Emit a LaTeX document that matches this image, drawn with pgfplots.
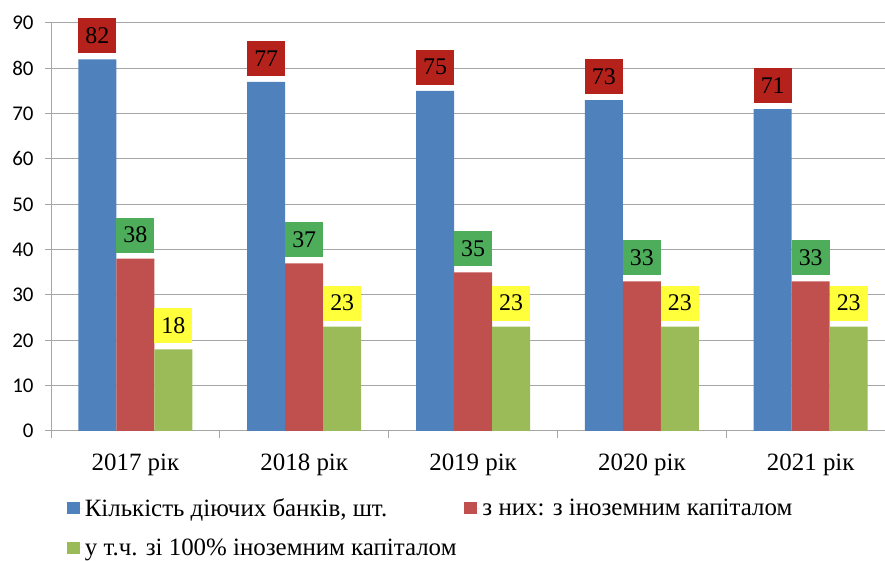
\documentclass[border=0pt]{standalone}
\usepackage{fontspec}
\setmainfont{Liberation Serif}
\newfontfamily\tnr{Liberation Serif}
\newfontfamily\calibri{Carlito}
\usepackage{pgfplots}
\pgfplotsset{compat=1.18}
\definecolor{cblue}{HTML}{4F81BD}
\definecolor{cred}{HTML}{C0504D}
\definecolor{cgreen}{HTML}{9BBB59}
\definecolor{lred}{HTML}{B5221C}
\definecolor{lgreen}{HTML}{4EAD5B}
\definecolor{lyellow}{HTML}{FFFF3C}
\definecolor{gridgray}{HTML}{A6A6A6}
\begin{document}
\begin{tikzpicture}[x=1bp,y=1bp]
\begin{axis}[
  at={(51bp,130bp)}, anchor=south west,
  scale only axis, width=834bp, height=408bp,
  ybar=0pt, bar width=38bp,
  xmin=-0.5, xmax=4.44, ymin=0, ymax=90,
  xtick={0,1,2,3,4},
  xticklabels={2017 рік,2018 рік,2019 рік,2020 рік,2021 рік},
  minor xtick={-0.5,0.5,1.5,2.5,3.5},
  ytick={0,10,...,90},
  axis x line*=bottom, axis y line*=left,
  axis line style={draw=gridgray, line width=1bp, -},
  ymajorgrids, grid style={draw=gridgray, line width=1bp},
  tick align=outside,
  major x tick style={draw=none},
  minor x tick style={draw=gridgray, line width=1bp},
  major y tick style={draw=gridgray, line width=1bp},
  major tick length=6bp, minor tick length=7bp,
  xticklabel style={font=\tnr\fontsize{25}{25}\selectfont, yshift=-13bp},
  yticklabel style={font=\calibri\fontsize{21}{21}\selectfont, xshift=-8bp},
  /pgf/number format/assume math mode=true,
  nodes near coords,
  every node near coord/.append style={font=\tnr\fontsize{24}{24}\selectfont, minimum width=38bp, minimum height=35bp, inner sep=0pt, yshift=6bp, text=black},
  legend style={at={(0.0152,-0.155)}, anchor=north west, draw=none, fill=none,
    font=\tnr\fontsize{25}{25}\selectfont, row sep=17bp,
    /tikz/every even column/.append style={column sep=6bp}},
  legend columns=2,
  legend cell align=left,
  legend image code/.code={\fill[#1] (0bp,-6bp) rectangle (13bp,6bp); \path (0bp,0bp) -- (16bp,0bp);},
]
\addplot[fill=cblue, draw=none, every node near coord/.append style={fill=lred}]
  coordinates {(0,82) (1,77) (2,75) (3,73) (4,71)};
\addplot[fill=cred, draw=none, every node near coord/.append style={fill=lgreen}]
  coordinates {(0,38) (1,37) (2,35) (3,33) (4,33)};
\addplot[fill=cgreen, draw=none, every node near coord/.append style={fill=lyellow}]
  coordinates {(0,18) (1,23) (2,23) (3,23) (4,23)};
\legend{{Кількість діючих банків, шт.},{з них: з іноземним капіталом},{у т.ч. зі 100\% іноземним капіталом}}
\end{axis}
\pgfresetboundingbox
\path (0,0) rectangle (885,561);
\end{tikzpicture}
\end{document}
